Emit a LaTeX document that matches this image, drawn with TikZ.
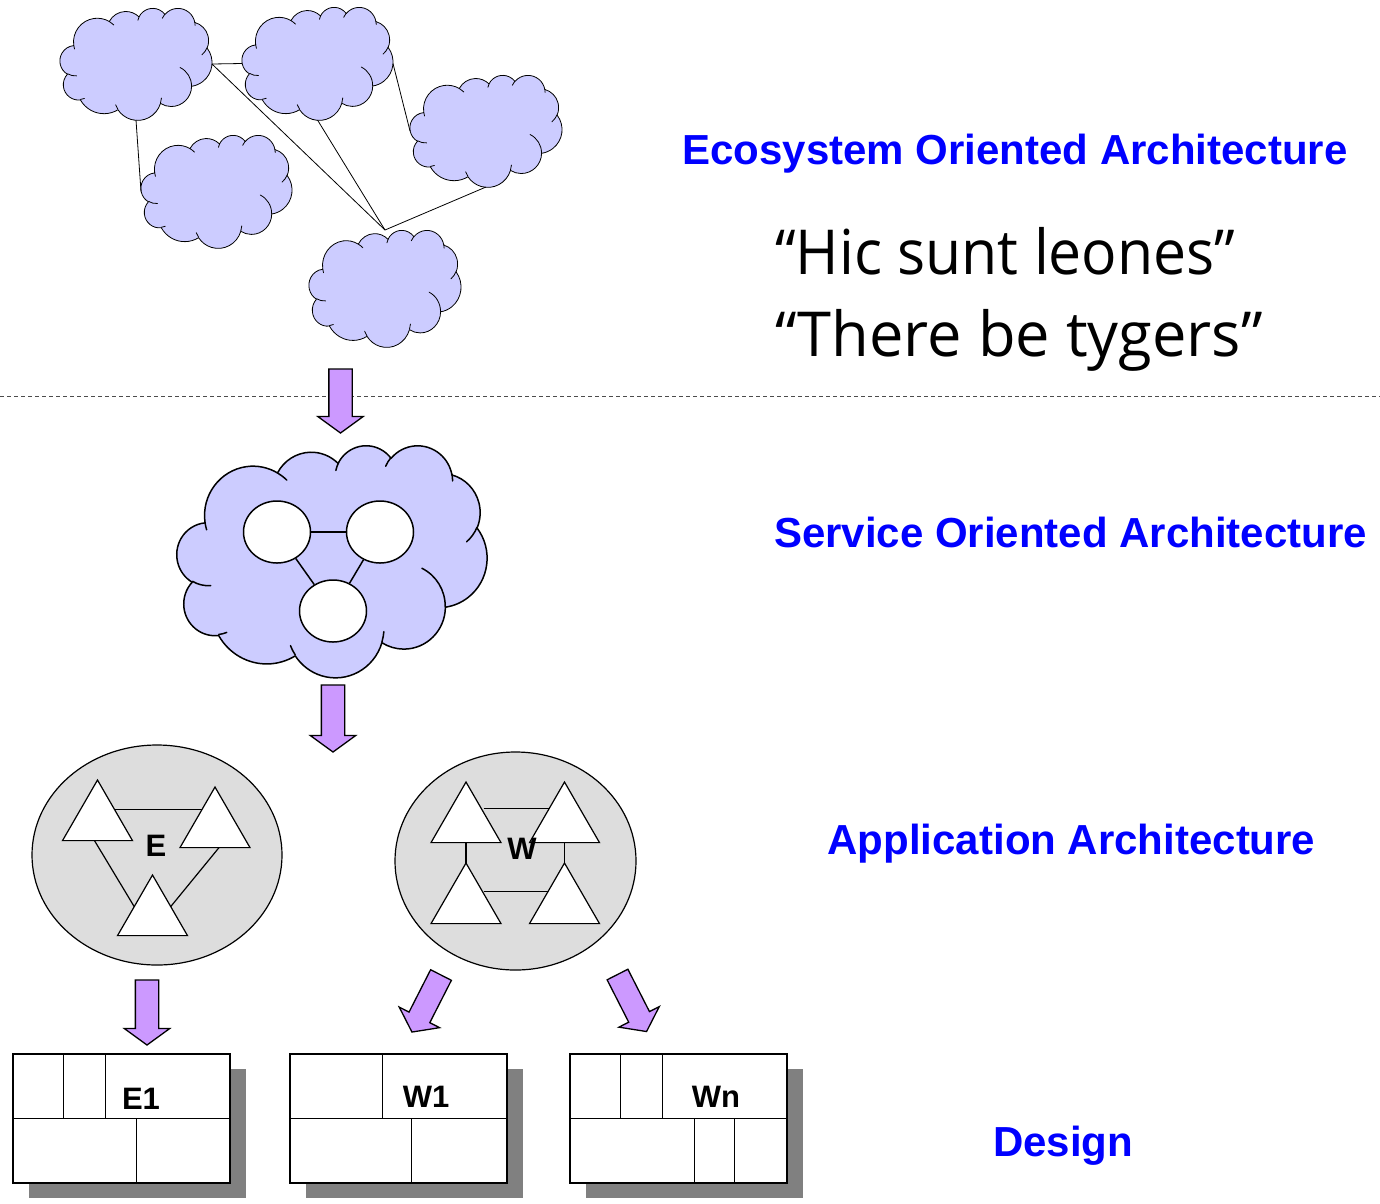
\documentclass[tikz,border=0pt]{standalone}
\usepackage{fontspec}
\setmainfont{Liberation Sans}
\newfontfamily\quotefont{Open Sans}
\usetikzlibrary{shapes.geometric,shapes.arrows,shadows,calc}
\definecolor{cloudfill}{HTML}{CCCCFF}
\definecolor{arrowfill}{HTML}{CC99FF}
\definecolor{ellfill}{HTML}{DDDDDD}
\definecolor{shadowgray}{HTML}{808080}
\definecolor{lblblue}{HTML}{0000FF}
\pgfdeclarelayer{bg}
\pgfdeclarelayer{lines}
\pgfsetlayers{bg,lines,main}

\newcommand\cloudoutline{(39,143.7)
 arc[start angle=-187.75,end angle=-59.64,x radius=67.53,y radius=91.90]
 arc[start angle=-152.03,end angle=-45.46,x radius=53.33,y radius=72.67]
 arc[start angle=-153.48,end angle=-37.33,x radius=43.65,y radius=59.45]
 arc[start angle=-139.71,end angle=-10.21,x radius=48.57,y radius=65.95]
 arc[start angle=-74.76,end angle=23.21,x radius=53.33,y radius=72.73]
 arc[start angle=-37.52,end angle=81.86,x radius=67.75,y radius=92.20]
 arc[start angle=0.46,end angle=121.96,x radius=57.85,y radius=78.67]
 arc[start angle=16.84,end angle=146.24,x radius=67.52,y radius=92.15]
 arc[start angle=59.00,end angle=150.17,x radius=77.20,y radius=105.43]
 arc[start angle=-276.69,end angle=-136.91,x radius=43.60,y radius=59.18]
 arc[start angle=-239.67,end angle=-95.88,x radius=43.45,y radius=59.45]
 -- cycle}
\newcommand\cloudinner{
 (46.93,261.77) arc[start angle=85.54,end angle=120.33,x radius=43.45,y radius=59.45]
 (69.28,348.99) arc[start angle=68.25,end angle=83.31,x radius=43.60,y radius=59.18]
 (164.78,390.90) arc[start angle=146.24,end angle=158.48,x radius=67.52,y radius=92.15]
 (288.27,347.51) arc[start angle=4.74,end angle=16.84,x radius=67.52,y radius=92.15]
 (341.29,229.54) arc[start angle=-64.01,end angle=0.46,x radius=57.85,y radius=78.67]
 (417.98,153.54) arc[start angle=23.21,end angle=49.67,x radius=53.33,y radius=72.73]
 (383.24,54.26) arc[start angle=-10.21,end angle=0.82,x radius=48.57,y radius=65.95]
 (290.78,39.52) arc[start angle=-156.28,end angle=-139.71,x radius=48.57,y radius=65.95]
 (221.41,47.20) arc[start angle=-167.73,end angle=-153.48,x radius=43.65,y radius=59.45]
 (140.00,51.92) arc[start angle=-59.64,end angle=-45.72,x radius=67.53,y radius=91.90]
 (41.27,157.89) arc[start angle=163.19,end angle=172.25,x radius=67.53,y radius=91.90]}
% #1 node name, #2 width, #3 height, #4 line width
\newcommand\cloudon[4]{%
 \begin{scope}[shift={(#1.north west)},x={#2/432*1pt},y={-#3/432*1pt},line width=#4]
  \filldraw[fill=cloudfill,draw=black,line join=round] \cloudoutline;
  \draw[line cap=round] \cloudinner;
 \end{scope}}

\begin{document}
\begin{tikzpicture}[x=1pt,y=-1pt,
  cloudnode/.style={inner sep=0pt,outer sep=0pt,draw=none},
  conn/.style={draw=black,line width=0.8pt},
  sconn/.style={draw=black,line width=1.5pt},
  circ/.style={ellipse,draw=black,fill=white,line width=1.5pt,inner sep=0pt,minimum width=67pt,minimum height=62pt},
  ell/.style={ellipse,draw=black,fill=ellfill,line width=1.2pt,inner sep=0pt},
  tri/.style={regular polygon,regular polygon sides=3,draw=black,fill=white,line width=1.2pt,inner sep=0pt,outer sep=0pt,minimum size=80.8pt},
  barrow/.style={single arrow,draw=black,fill=arrowfill,line width=1.3pt,inner xsep=0pt,inner ysep=11pt,minimum width=0pt,single arrow head extend=11pt,single arrow tip angle=108,single arrow head indent=0pt,outer sep=0pt},
  boxn/.style={rectangle,draw=black,fill=white,line width=1.5pt,minimum width=217pt,minimum height=129pt,inner sep=0pt,
    drop shadow={shadow xshift=16pt,shadow yshift=-15pt,fill=shadowgray,opacity=1}},
  inline/.style={draw=black,line width=1.5pt},
  title/.style={font=\fontsize{42}{50}\selectfont\bfseries,text=lblblue,inner sep=0pt},
  smalllbl/.style={font=\fontsize{31}{36}\selectfont\bfseries,inner sep=0pt},
  qt/.style={font=\quotefont\fontsize{62}{70}\selectfont,inner sep=0pt}]
\useasboundingbox (0,0) rectangle (1380,1203);

% ---------- ecosystem clouds ----------
\node[cloudnode,minimum width=152pt,minimum height=112pt] (c1) at (136,64) {};
\node[cloudnode,minimum width=151pt,minimum height=113pt] (c2) at (317.5,63.5) {};
\node[cloudnode,minimum width=152pt,minimum height=112pt] (c3) at (486,131) {};
\node[cloudnode,minimum width=151pt,minimum height=113pt] (c4) at (216.5,191.5) {};
\node[cloudnode,minimum width=152pt,minimum height=117pt] (c5) at (385,288.5) {};
\cloudon{c1}{152}{112}{0.8pt}
\cloudon{c2}{151}{113}{0.8pt}
\cloudon{c3}{152}{112}{0.8pt}
\cloudon{c4}{151}{113}{0.8pt}
\cloudon{c5}{152}{117}{0.8pt}
\draw[conn] (c1.east) -- (c2.west);
\draw[conn] (c1.east) -- (c5.north);
\draw[conn] (c2.south) -- (c5.north);
\draw[conn] (c3.south) -- (c5.north);
\draw[conn] (c2.east) -- (c3.west);
\draw[conn] (c1.south) -- (c4.west);

% ---------- dashed separator ----------
\coordinate (dl) at (0,396);
\coordinate (dr) at (1380,396);
\draw[draw=black!70,line width=0.8pt,dash pattern=on 4pt off 3pt] (dl) -- (dr);

% ---------- SOA cloud ----------
\node[cloudnode,minimum width=310pt,minimum height=232pt] (soa) at (332,561) {};
\cloudon{soa}{310}{232}{1.5pt}
\node[circ] (s1) at (277,532) {};
\node[circ] (s2) at (380,532) {};
\node[circ] (s3) at (333,611) {};
\draw[sconn] (s1) -- (s2);
\draw[sconn] (s1) -- (s3);
\draw[sconn] (s2) -- (s3);

% ---------- application ellipses ----------
\begin{pgfonlayer}{bg}
\node[ell,minimum width=250pt,minimum height=220pt] (E) at (157,855) {};
\node[ell,minimum width=241pt,minimum height=218pt] (W) at (515.5,861) {};
\end{pgfonlayer}
\node[tri] (e1) at (97.5,820.4) {};
\node[tri] (e2) at (215,827.4) {};
\node[tri] (e3) at (152.5,915.4) {};
\node[tri] (w1) at (466,822.4) {};
\node[tri] (w2) at (564.5,822.4) {};
\node[tri] (w3) at (466,903.4) {};
\node[tri] (w4) at (564.5,903.4) {};
\begin{pgfonlayer}{lines}
\draw[conn,line width=1.2pt] ([yshift=1pt]e1.side 3) -- ([yshift=1pt]e1.side 3 -| e2.center);
\draw[conn,line width=1.2pt] ([xshift=-3pt]e1.side 2) -- ([xshift=-13pt]e3.center);
\draw[conn,line width=1.2pt] ([xshift=4pt]e2.side 2) -- ([xshift=11pt]e3.center);
\draw[conn,line width=1.2pt] ([yshift=4pt]w1.side 3) -- ([yshift=4pt]w1.side 3 -| w2.center);
\draw[conn,line width=1.2pt] ([yshift=2pt]w3.side 3) -- ([yshift=2pt]w3.side 3 -| w4.center);
\draw[conn,line width=1.2pt] (w1.side 2) -- (w3.corner 1);
\draw[conn,line width=1.2pt] (w2.side 2) -- (w4.corner 1);
\end{pgfonlayer}
\node[smalllbl] (Et) at (156,846) {E};
\node[smalllbl] (Wt) at (522,849) {W};

% ---------- block arrows ----------
\node[barrow,minimum height=64pt,rotate=-90,anchor=tail] (ar1) at (340.5,369) {};
\node[barrow,minimum height=67pt,rotate=-90,anchor=tail] (ar2) at (333,685) {};
\node[barrow,minimum height=65pt,rotate=-90,anchor=tail] (ar3) at (147,980) {};
\node[barrow,minimum height=64pt,rotate=-117,anchor=tail] (ar4) at (441,975) {};
\node[barrow,minimum height=64pt,rotate=-63,anchor=tail] (ar5) at (617.5,974.5) {};

% ---------- design boxes ----------
\node[boxn] (b1) at (121.5,1118.5) {};
\node[boxn] (b2) at (398.5,1118.5) {};
\node[boxn] (b3) at (678.5,1118.5) {};
\draw[inline] (b1.west) -- (b1.east);
\draw[inline] ($(b1.north west)+(51,0)$) -- ($(b1.west)+(51,0)$);
\draw[inline] ($(b1.north west)+(93,0)$) -- ($(b1.west)+(93,0)$);
\draw[inline] ($(b1.west)+(124,0)$) -- ($(b1.south west)+(124,0)$);
\draw[inline] (b2.west) -- (b2.east);
\draw[inline] ($(b2.north west)+(93,0)$) -- ($(b2.west)+(93,0)$);
\draw[inline] ($(b2.west)+(122,0)$) -- ($(b2.south west)+(122,0)$);
\draw[inline] (b3.west) -- (b3.east);
\draw[inline] ($(b3.north west)+(51,0)$) -- ($(b3.west)+(51,0)$);
\draw[inline] ($(b3.north west)+(93,0)$) -- ($(b3.west)+(93,0)$);
\draw[inline] ($(b3.west)+(125,0)$) -- ($(b3.south west)+(125,0)$);
\draw[inline] ($(b3.west)+(165,0)$) -- ($(b3.south west)+(165,0)$);
\node[smalllbl] (b1t) at (141,1099) {E1};
\node[smalllbl] (b2t) at (426,1097) {W1};
\node[smalllbl] (b3t) at (716,1097) {Wn};

% ---------- labels ----------
\node[title,anchor=base] (eoa) at (1015,164) {Ecosystem Oriented Architecture};
\node[title,anchor=base] (soal) at (1070.5,547) {Service Oriented Architecture};
\node[title,anchor=base] (aa) at (1071.5,854) {Application Architecture};
\node[title,anchor=base] (des) at (1063,1156) {Design};
\node[qt,anchor=base west] (q1) at (775,274) {\scalebox{0.95}[1]{“Hic sunt leones”}};
\node[qt,anchor=base west] (q2) at (775,356) {\scalebox{0.99}[1]{“There be tygers”}};
\end{tikzpicture}
\end{document}
